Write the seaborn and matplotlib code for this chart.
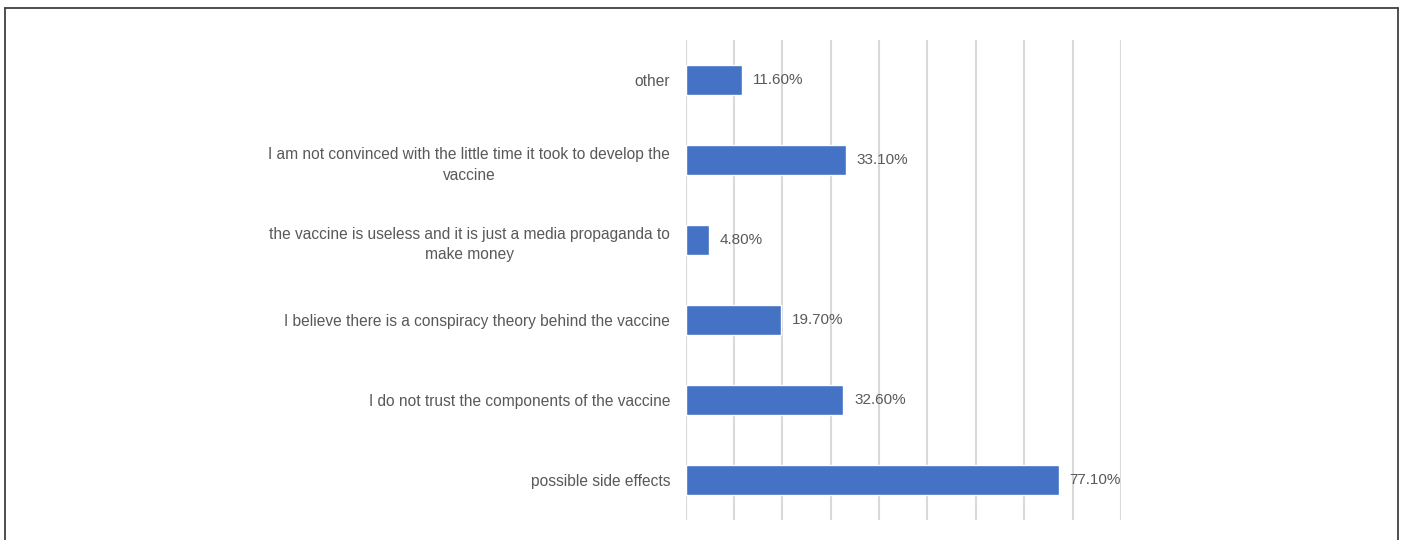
import matplotlib
matplotlib.use("Agg")
import matplotlib.pyplot as plt
import seaborn as sns
import pandas as pd
from matplotlib.lines import Line2D

categories = [
    "other",
    "I am not convinced with the little time it took to develop the\nvaccine",
    "the vaccine is useless and it is just a media propaganda to\nmake money",
    "I believe there is a conspiracy theory behind the vaccine",
    "I do not trust the components of the vaccine",
    "possible side effects",
]
values = [11.6, 33.1, 4.8, 19.7, 32.6, 77.1]
value_labels = ["11.60%", "33.10%", "4.80%", "19.70%", "32.60%", "77.10%"]

df = pd.DataFrame({"reason": categories, "pct": values})

sns.set_theme(style="white")
plt.rcParams["font.family"] = ["Liberation Sans", "DejaVu Sans"]

fig = plt.figure(figsize=(14.03, 5.40), dpi=100)
ax = fig.add_axes([685.5 / 1403, 1 - 520 / 540, (1121 - 685.5) / 1403, 480 / 540])

sns.barplot(data=df, x="pct", y="reason", order=categories, orient="h",
            color="#4472C4", saturation=1, width=0.37, ax=ax, zorder=3)

ax.set_xlim(0, 90)
ax.set_ylim(5.5, -0.5)
ax.set_xticks(range(0, 100, 10))
ax.xaxis.grid(True, color="#D9D9D9", linewidth=1.5, zorder=0)
ax.yaxis.grid(False)
ax.tick_params(axis="x", labelbottom=False, length=0)
ax.tick_params(axis="y", length=0, pad=11)
for lab in ax.get_yticklabels():
    lab.set_color("#595959")
    lab.set_fontsize(11.2)
    lab.set_multialignment("center")
    lab.set_linespacing(1.5)
for s in ax.spines.values():
    s.set_visible(False)
ax.set_xlabel("")
ax.set_ylabel("")

for cont in ax.containers:
    ax.bar_label(cont, labels=value_labels, padding=8, color="#595959", fontsize=11)

# outer border (open at bottom)
bx0, bx1, by = 5 / 1403, 1398 / 1403, 1 - 8 / 540
for xs, ys in [([bx0, bx0], [0, by]), ([bx0, bx1], [by, by]), ([bx1, bx1], [by, 0])]:
    fig.lines.append(Line2D(xs, ys, transform=fig.transFigure,
                            color="#404040", linewidth=1.3))

fig.savefig("out.png", dpi=100)
